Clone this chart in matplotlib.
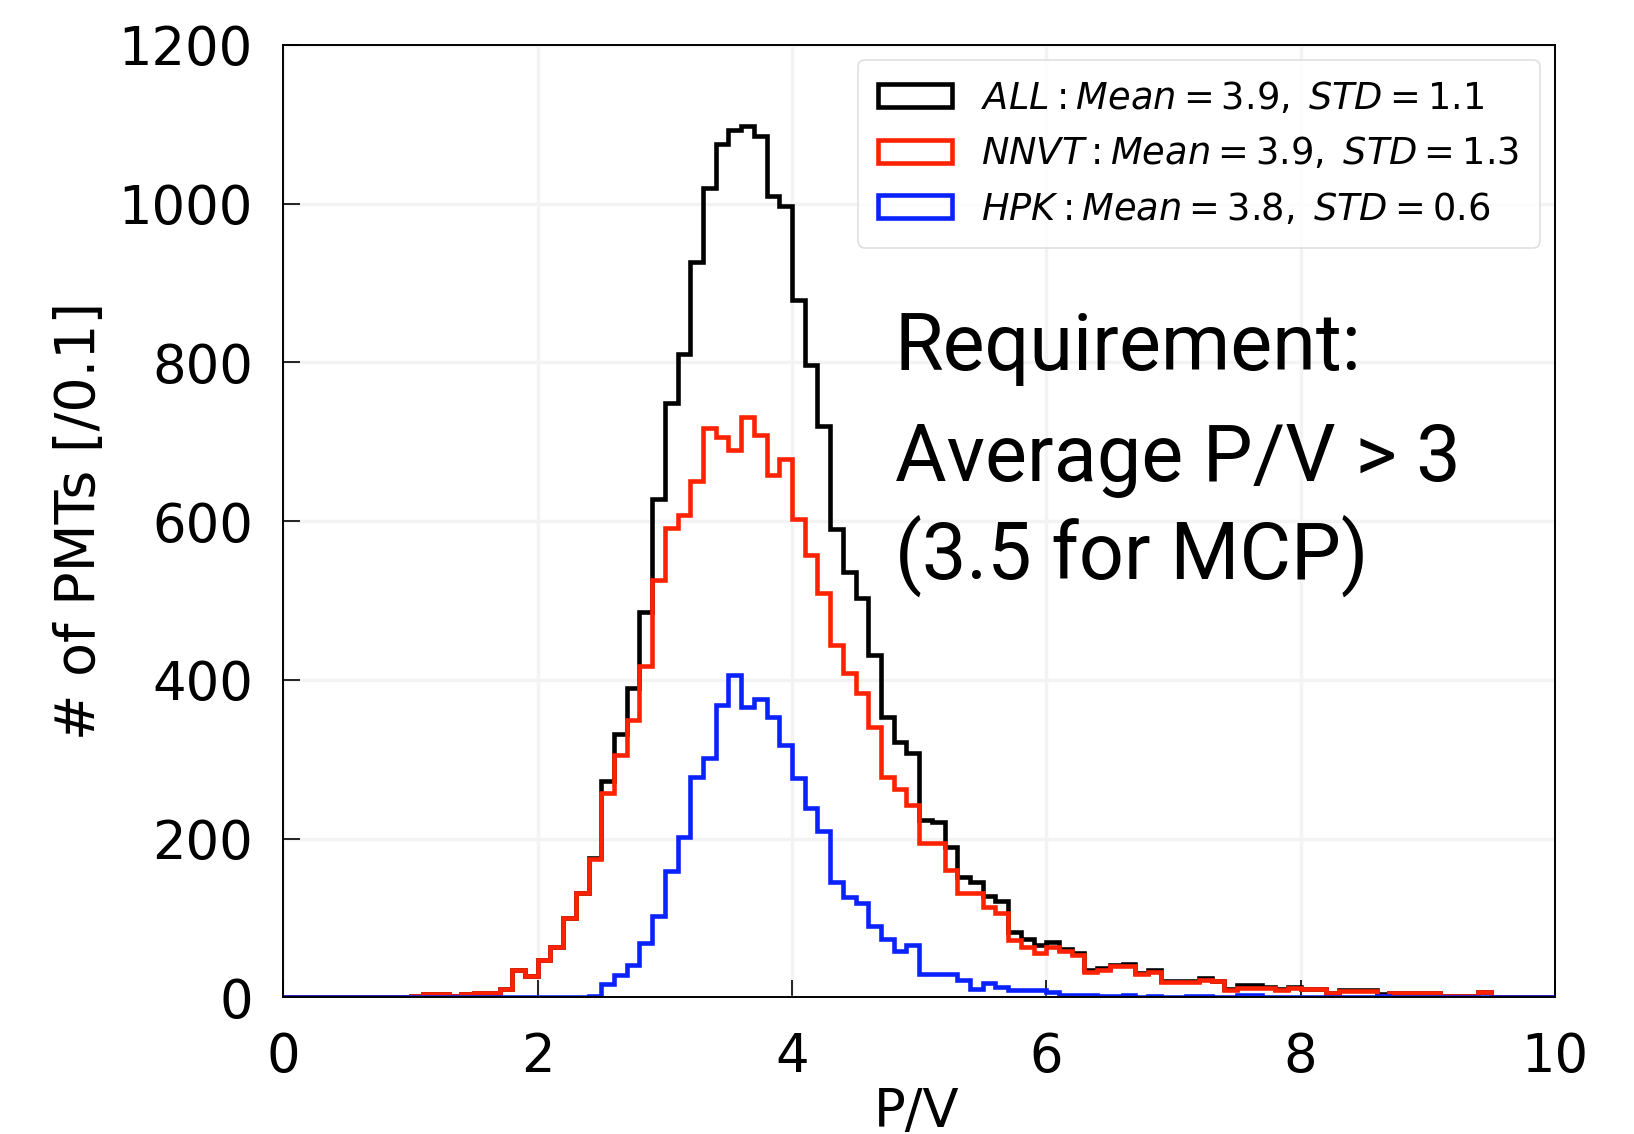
import numpy as np
import matplotlib
matplotlib.use("Agg")
import matplotlib.pyplot as plt

# ---- data (counts per 0.1 bin of P/V, from 0.0 to 10.0) ----
bin_edges = np.round(np.linspace(0.0, 10.0, 101), 2)

all_counts = [
    0, 0, 0, 0, 0, 0, 0, 0, 0, 0,
    2, 4, 4, 2, 4, 6, 6, 11, 34, 27,
    47, 64, 100, 132, 176, 272, 332, 390, 485, 628,
    749, 811, 927, 1019, 1075, 1093, 1098, 1085, 1010, 997,
    878, 796, 720, 590, 536, 503, 431, 353, 322, 308,
    224, 221, 190, 152, 145, 128, 121, 82, 74, 66,
    70, 61, 56, 35, 37, 41, 42, 31, 34, 20,
    20, 21, 24, 21, 10, 15, 15, 13, 10, 13,
    11, 11, 6, 9, 9, 9, 4, 6, 5, 5,
    5, 2, 2, 2, 7, 1, 1, 1, 1, 1,
]

nnvt_counts = [
    0, 0, 0, 0, 0, 0, 0, 0, 0, 0,
    2, 4, 4, 2, 4, 6, 6, 11, 34, 27,
    47, 64, 100, 132, 174, 257, 305, 349, 417, 526,
    591, 608, 650, 717, 706, 690, 731, 708, 658, 678,
    603, 557, 510, 444, 408, 384, 341, 278, 263, 242,
    194, 194, 160, 131, 131, 114, 106, 72, 64, 56,
    64, 58, 53, 32, 35, 39, 39, 30, 32, 19,
    19, 19, 22, 20, 9, 12, 12, 12, 9, 12,
    10, 10, 5, 8, 8, 8, 2, 5, 5, 5,
    5, 2, 2, 2, 7, 1, 1, 1, 1, 1,
]

hpk_counts = [
    0, 0, 0, 0, 0, 0, 0, 0, 0, 0,
    0, 0, 0, 0, 0, 0, 0, 0, 0, 0,
    0, 0, 0, 0, 2, 17, 28, 41, 68, 102,
    159, 202, 277, 301, 368, 406, 366, 376, 353, 318,
    276, 238, 209, 145, 127, 119, 90, 74, 58, 66,
    29, 29, 29, 22, 11, 18, 13, 9, 9, 9,
    7, 3, 3, 3, 2, 2, 3, 1, 2, 1,
    1, 2, 2, 1, 1, 3, 3, 1, 1, 1,
    1, 1, 1, 1, 1, 1, 2, 1, 0, 0,
    0, 0, 0, 0, 0, 0, 0, 0, 0, 0,
]

series_labels = [
    r"$ALL: Mean = 3.9,\;STD = 1.1$",
    r"$NNVT: Mean = 3.9,\;STD = 1.3$",
    r"$HPK: Mean = 3.8,\;STD = 0.6$",
]
series_colors = ["#000000", "#ff2200", "#0a22ff"]

x_ticks = [0, 2, 4, 6, 8, 10]
y_ticks = [0, 200, 400, 600, 800, 1000, 1200]

req_lines = ["Requirement:", "Average P/V > 3", "(3.5 for MCP)"]

# ---- figure ----
fig = plt.figure(figsize=(16.34, 11.34), dpi=100)
ax = fig.add_axes([0.1735, 0.1205, 0.7780, 0.8400])

centers = (bin_edges[:-1] + bin_edges[1:]) / 2
for counts, lab, col in zip([all_counts, nnvt_counts, hpk_counts], series_labels, series_colors):
    ax.hist(centers, bins=bin_edges, weights=counts, histtype="step",
            color=col, linewidth=3.3, label=lab)

ax.set_xlim(0, 10)
ax.set_ylim(0, 1200)
ax.set_xticks(x_ticks)
ax.set_yticks(y_ticks)

ax.grid(True, color="#f3f3f3", linewidth=2.5)
ax.set_axisbelow(True)

for sp in ax.spines.values():
    sp.set_color("black")
    sp.set_linewidth(1.4)

ax.tick_params(axis="both", direction="in", length=12, width=1.2,
               labelsize=38, color="black")
ax.tick_params(axis="x", pad=24)
ax.tick_params(axis="y", pad=22)

ax.set_ylabel("# of PMTs [/0.1]", fontsize=40)
ax.yaxis.set_label_coords(-0.139, 0.5)
ax.set_xlabel("P/V", fontsize=38, va="top")
ax.xaxis.set_label_coords(0.498, -0.093)

leg = ax.legend(loc="upper right", fontsize=26.5, frameon=True, fancybox=True,
                handlelength=2.0, handleheight=0.6, handletextpad=0.8,
                labelspacing=0.5, borderaxespad=0.4, borderpad=0.55)
leg.get_frame().set_edgecolor("#d8d8d8")
leg.get_frame().set_linewidth(1.2)

req_y = [790, 650, 528]
for txt, yy in zip(req_lines, req_y):
    ax.text(4.81, yy, txt, fontsize=57, family=["Roboto", "DejaVu Sans"],
            fontweight="normal", va="baseline", ha="left", color="black")

fig.savefig("out.png", dpi=100)
